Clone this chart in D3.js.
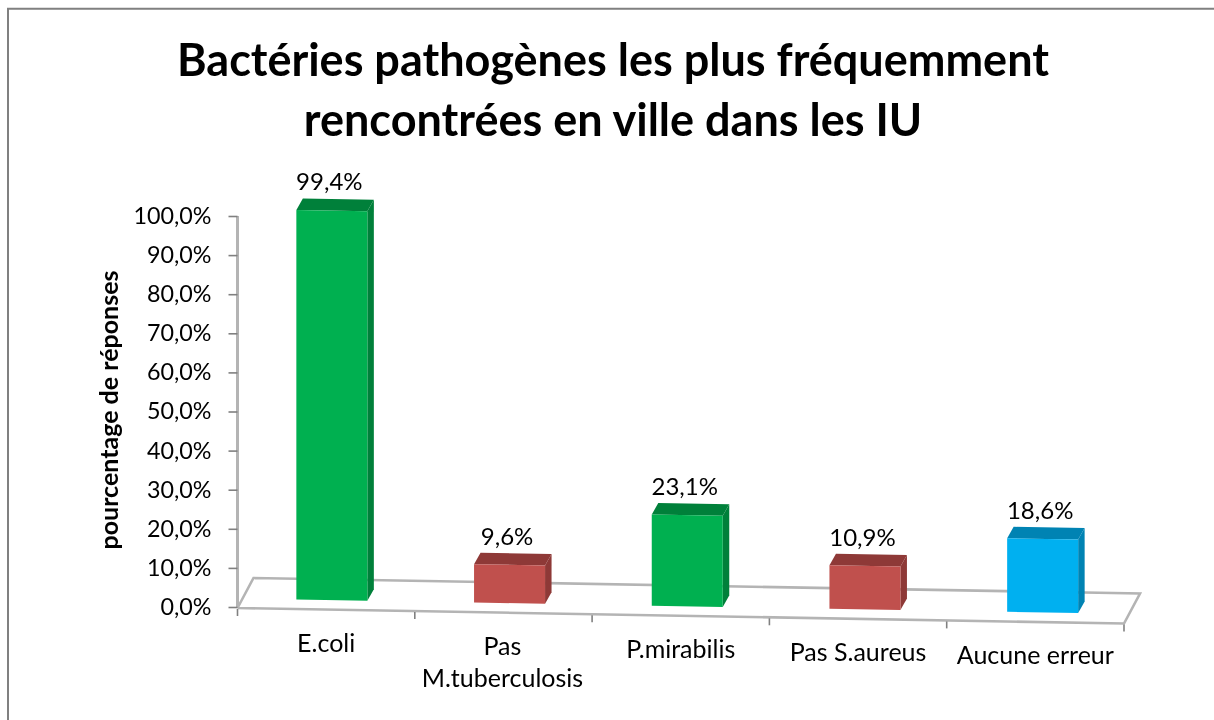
<!DOCTYPE html>
<html><head><meta charset="utf-8">
<script src="https://cdnjs.cloudflare.com/ajax/libs/d3/7.8.5/d3.min.js"></script>
<style>html,body{margin:0;padding:0;background:#fff}svg{display:block;filter:blur(0.45px)}text{font-family:Lato,"Open Sans",sans-serif;fill:#000}</style>
</head><body><svg id="c" width="1214" height="720"></svg>
<script>
const titleLines = ["Bactéries pathogènes les plus fréquemment", "rencontrées en ville dans les IU"];
const yAxisTitle = "pourcentage de réponses";
const categories = ["E.coli", "Pas M.tuberculosis", "P.mirabilis", "Pas S.aureus", "Aucune erreur"];
const categoryLines = [["E.coli"], ["Pas", "M.tuberculosis"], ["P.mirabilis"], ["Pas S.aureus"], ["Aucune erreur"]];
const values = [99.4, 9.6, 23.1, 10.9, 18.6];
const groups = ["right", "wrong", "right", "wrong", "none"];
const yTicks = [0, 10, 20, 30, 40, 50, 60, 70, 80, 90, 100];

const svg = d3.select("#c");
const fr = d3.formatLocale({decimal: ",", thousands: " ", grouping: [3], currency: ["", "€"]});
const pct = v => fr.format(".1f")(v) + "%";
const face = d3.scaleOrdinal(["right","wrong","none"], ["#00B050", "#C0504D", "#00B0F0"]);
const dark = d3.scaleOrdinal(["right","wrong","none"], ["#00803A", "#8E3937", "#0083B3"]);

const y = d3.scaleLinear().domain([0, 100]).range([607, 216]);
const x = d3.scaleBand().domain(categories).range([237.5, 1124]);
const slope = 15.5 / 886;
const floorY = px => 608 + (px - 238) * slope;
const depth = [16, -30];
const axisColor = "#b4b4b4";
const tickColor = "#808080";

// chart frame
svg.append("path").attr("d", "M8,720V8.8H1214").attr("fill", "none").attr("stroke", "#808080").attr("stroke-width", 2);

// title
svg.append("g").selectAll("text").data(titleLines).join("text")
  .attr("x", 613).attr("y", (d, i) => 76 + i * 60)
  .attr("text-anchor", "middle").attr("font-size", 45).attr("font-weight", 700)
  .text(d => d);

// floor
const fl = svg.append("g").attr("fill", "none").attr("stroke", axisColor).attr("stroke-width", 2.6);
const [x0, x1] = x.range();
fl.append("path").attr("d", d3.line()([
  [x0, floorY(x0)], [x1, floorY(x1)], [x1 + depth[0], floorY(x1) + depth[1]],
  [x0 + depth[0], floorY(x0) + depth[1]], [x0, floorY(x0)]
]));
// category ticks
svg.append("g").selectAll("line").data([...categories.map(c => x(c)), x1]).join("line")
  .attr("stroke", tickColor).attr("stroke-width", 1.6)
  .attr("x1", d => d).attr("x2", d => d)
  .attr("y1", d => floorY(d) + 1).attr("y2", d => floorY(d) + 8);

// y axis
const ax = svg.append("g").attr("transform", "translate(237.5,0)")
  .call(d3.axisLeft(y).tickValues(yTicks).tickSize(9).tickPadding(17).tickFormat(pct));
ax.select(".domain").attr("d", `M0,${y(100)}V${y(0)}`).attr("stroke", axisColor).attr("stroke-width", 3);
ax.selectAll(".tick line").attr("stroke", tickColor).attr("stroke-width", 1.6);
ax.selectAll("text").attr("font-size", 23.3).attr("font-family", "Lato");

// axis title
svg.append("text").attr("transform", "translate(118,410) rotate(-90)")
  .attr("text-anchor", "middle").attr("font-size", 25).attr("font-weight", 700).text(yAxisTitle);

// bars
const barW = 71, dx = 6.5, dy = -11.5, inset = (x.bandwidth() - barW) / 2 + 5.7;
const polys = categories.map((c, i) => {
  const l = x(c) + inset + i * 0.4, r = l + barW;
  const bl = floorY(l) - 9.6, br = floorY(r) - 9.6;
  const h = y(0) - y(values[i]) + 0.8;
  return {i, l, r, bl, br, tl: bl - h, tr: br - h, g: groups[i], v: values[i]};
});
const bars = svg.append("g").selectAll("g").data(polys).join("g");
const line = d3.line();
bars.append("path").attr("fill", d => dark(d.g)).attr("d", d => line([
  [d.r, d.br], [d.r + dx, d.br + dy], [d.r + dx, d.tr + dy], [d.r, d.tr]]) + "Z");
bars.append("path").attr("fill", d => dark(d.g)).attr("d", d => line([
  [d.l, d.tl], [d.l + dx, d.tl + dy], [d.r + dx, d.tr + dy], [d.r, d.tr]]) + "Z");
bars.append("path").attr("fill", d => face(d.g)).attr("d", d => line([
  [d.l, d.bl], [d.r, d.br], [d.r, d.tr], [d.l, d.tl]]) + "Z");
bars.append("text").attr("x", d => (d.l + d.r) / 2 - 2.5).attr("y", d => d.tl - 19.5)
  .attr("text-anchor", "middle").attr("font-size", 24).text(d => pct(d.v));

// category labels
categories.forEach((c, i) => {
  const cx = x(c) + x.bandwidth() / 2;
  svg.append("g").selectAll("text").data(categoryLines[i]).join("text")
    .attr("x", cx + (i === 1 ? -1 : 0)).attr("y", (d, k) => floorY(cx) + 42.5 + k * 32)
    .attr("text-anchor", "middle").attr("font-size", 25).text(d => d);
});
</script></body></html>
